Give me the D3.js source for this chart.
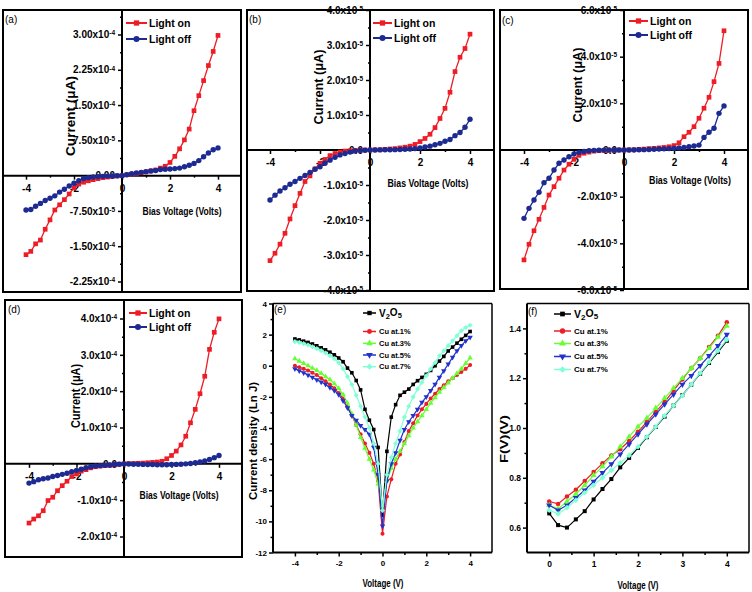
<!DOCTYPE html>
<html><head><meta charset="utf-8">
<script src="https://cdnjs.cloudflare.com/ajax/libs/d3/7.8.5/d3.min.js"></script>
<style>
html,body{margin:0;padding:0;background:#fff;}
svg{display:block;}
text{font-family:'Liberation Sans Narrow','Arial Narrow','Liberation Sans',Arial,sans-serif;font-weight:bold;fill:#000;}
</style></head><body>
<svg id="fig" width="752" height="592"></svg>
<script>
// ---------------- DATA ----------------
const biasV = [-4,-3.8,-3.6,-3.4,-3.2,-3,-2.8,-2.6,-2.4,-2.2,-2,-1.8,-1.6,-1.4,-1.2,-1,-0.8,-0.6,-0.4,-0.2,0,0.2,0.4,0.6,0.8,1,1.2,1.4,1.6,1.8,2,2.2,2.4,2.6,2.8,3,3.2,3.4,3.6,3.8,4];
const ivSeriesNames = ["Light on","Light off"];

// (a) current in units of 1e-4
const aLightOn  = [-1.68,-1.61,-1.45,-1.37,-1.14,-0.94,-0.73,-0.62,-0.51,-0.39,-0.26,-0.18,-0.14,-0.11,-0.085,-0.064,-0.043,-0.03,-0.015,-0.007,0,0.02,0.03,0.045,0.06,0.08,0.10,0.12,0.16,0.20,0.28,0.41,0.57,0.76,0.99,1.38,1.70,2.02,2.34,2.64,2.98];
const aLightOff = [-0.73,-0.72,-0.65,-0.59,-0.53,-0.48,-0.43,-0.35,-0.29,-0.22,-0.16,-0.11,-0.06,-0.043,-0.03,-0.02,-0.015,-0.01,-0.005,-0.002,0,0.02,0.04,0.055,0.07,0.085,0.10,0.11,0.13,0.135,0.14,0.15,0.16,0.19,0.22,0.26,0.32,0.40,0.48,0.55,0.59];
const aTickVals = [-2.25,-1.5,-0.75,0,0.75,1.5,2.25,3.0];
const aTickMant = ["-2.25","-1.50","-7.50","0.00","7.50","1.50","2.25","3.00"];
const aTickExp  = ["-4","-4","-5","","-5","-4","-4","-4"];
const aMinor = [-1.875,-1.125,-0.375,0.375,1.125,1.875,2.625,3.375];

// (b) units of 1e-5
const bLightOn  = [-3.16,-2.95,-2.69,-2.38,-1.97,-1.59,-1.24,-0.90,-0.74,-0.54,-0.38,-0.27,-0.16,-0.10,-0.06,-0.03,-0.02,-0.01,-0.005,0,0,0.005,0.01,0.02,0.03,0.04,0.06,0.08,0.11,0.16,0.24,0.33,0.45,0.64,0.90,1.19,1.65,2.24,2.65,2.90,3.31];
const bLightOff = [-1.43,-1.29,-1.17,-1.08,-0.98,-0.90,-0.81,-0.73,-0.64,-0.55,-0.48,-0.38,-0.29,-0.21,-0.14,-0.10,-0.06,-0.03,-0.01,-0.005,0,0.001,0.003,0.005,0.008,0.01,0.015,0.02,0.03,0.04,0.06,0.085,0.11,0.15,0.19,0.25,0.30,0.41,0.50,0.65,0.88];
const bTickVals = [-4,-3,-2,-1,0,1,2,3,4];
const bTickMant = ["-4.0","-3.0","-2.0","-1.0","0.0","1.0","2.0","3.0","4.0"];
const bTickExp  = ["-5","-5","-5","-5","","-5","-5","-5","-5"];
const bMinor = [-3.5,-2.5,-1.5,-0.5,0.5,1.5,2.5,3.5];

// (c) units of 1e-5
const cLightOn  = [-4.71,-4.04,-3.46,-2.97,-2.46,-1.93,-1.57,-1.21,-0.86,-0.61,-0.40,-0.23,-0.14,-0.09,-0.05,-0.03,-0.02,-0.01,-0.005,0,0,0.005,0.015,0.03,0.04,0.06,0.07,0.09,0.11,0.14,0.19,0.31,0.57,0.76,1.0,1.36,1.79,2.26,2.93,3.71,5.11];
const cLightOff = [-2.93,-2.5,-2.14,-1.81,-1.4,-1.21,-0.86,-0.57,-0.43,-0.29,-0.17,-0.10,-0.06,-0.03,-0.015,-0.01,-0.005,0,0,0,0,0,0,0.01,0.015,0.02,0.03,0.04,0.05,0.06,0.07,0.09,0.11,0.14,0.17,0.21,0.54,0.76,0.93,1.57,1.89];
const cTickVals = [-6,-4,-2,0,2,4,6];
const cTickMant = ["-6.0","-4.0","-2.0","0.0","2.0","4.0","6.0"];
const cTickExp  = ["-5","-5","-5","","-5","-5","-5"];
const cMinor = [-5,-3,-1,1,3,5];

// (d) units of 1e-4
const dLightOn  = [-1.63,-1.52,-1.43,-1.29,-1.01,-0.92,-0.74,-0.60,-0.48,-0.35,-0.28,-0.20,-0.16,-0.11,-0.08,-0.06,-0.05,-0.04,-0.03,-0.01,0,0.005,0.01,0.015,0.02,0.03,0.04,0.05,0.07,0.14,0.23,0.35,0.52,0.76,1.13,1.50,1.93,2.41,3.15,3.62,3.99];
const dLightOff = [-0.53,-0.49,-0.44,-0.41,-0.39,-0.35,-0.32,-0.29,-0.26,-0.22,-0.18,-0.15,-0.11,-0.08,-0.06,-0.05,-0.04,-0.03,-0.02,-0.01,0,-0.005,-0.01,-0.01,-0.015,-0.02,-0.02,-0.025,-0.025,-0.025,-0.02,-0.015,-0.01,0,0.01,0.03,0.05,0.08,0.12,0.17,0.23];
const dTickVals = [-2,-1,0,1,2,3,4];
const dTickMant = ["-2.0","-1.0","0.0","1.0","2.0","3.0","4.0"];
const dTickExp  = ["-4","-4","","-4","-4","-4","-4"];
const dMinor = [-1.5,-0.5,0.5,1.5,2.5,3.5];

const ivXTicks = [-4,-2,0,2,4];
const ivXMinor = [-3,-1,1,3];

// (e) Ln J vs voltage
const eSeriesNames = ["V2O5","Cu at.1%","Cu at.3%","Cu at.5%","Cu at.7%"];
const eV2O5 = [1.72,1.66,1.58,1.50,1.40,1.28,1.15,1.02,0.87,0.70,0.50,0.26,-0.15,-0.45,-0.95,-1.55,-2.8,-3.5,-4.1,-5.25,-9.6,-5.5,-3.3,-2.5,-1.9,-1.7,-1.5,-1.2,-0.96,-0.75,-0.55,-0.3,0.0,0.3,0.6,0.95,1.2,1.45,1.7,1.95,2.2];
const eCu1 = [0.0,-0.1,-0.2,-0.3,-0.45,-0.6,-0.8,-1.0,-1.2,-1.45,-1.75,-2.1,-2.6,-3.2,-3.8,-4.4,-5.0,-5.6,-6.3,-7.4,-10.8,-8.4,-7.3,-6.3,-5.7,-4.9,-4.2,-3.7,-3.2,-2.8,-2.45,-2.1,-1.8,-1.5,-1.25,-1.0,-0.8,-0.6,-0.4,-0.2,0.05];
const eCu3 = [0.45,0.3,0.15,0.0,-0.15,-0.3,-0.5,-0.7,-0.9,-1.15,-1.45,-1.85,-2.4,-3.1,-3.8,-4.6,-5.3,-6.0,-6.7,-7.6,-9.0,-7.4,-6.6,-6.0,-5.5,-5.0,-4.5,-4.0,-3.6,-3.2,-2.8,-2.4,-2.05,-1.7,-1.4,-1.1,-0.8,-0.5,-0.2,0.15,0.5];
const eCu5 = [-0.2,-0.32,-0.45,-0.6,-0.75,-0.9,-1.05,-1.2,-1.4,-1.6,-1.85,-2.25,-2.7,-3.2,-3.5,-3.85,-4.1,-4.4,-5.25,-7.0,-10.3,-7.4,-6.3,-5.6,-4.8,-4.1,-3.6,-3.2,-2.8,-2.35,-2.0,-1.6,-1.2,-0.75,-0.32,0.1,0.54,0.96,1.29,1.6,1.82];
const eCu7 = [1.55,1.5,1.42,1.33,1.22,1.1,0.97,0.82,0.65,0.45,0.2,-0.2,-0.7,-1.2,-1.9,-2.6,-3.3,-4.0,-5.0,-6.3,-9.3,-7.0,-5.9,-5.0,-4.2,-3.3,-2.6,-2.0,-1.5,-1.07,-0.64,-0.2,0.2,0.64,0.96,1.29,1.6,1.93,2.25,2.46,2.6];

// (f) F(V) vs voltage
const fVolt = [0,0.2,0.4,0.6,0.8,1,1.2,1.4,1.6,1.8,2,2.2,2.4,2.6,2.8,3,3.2,3.4,3.6,3.8,4];
const fV2O5 = [0.657,0.61,0.60,0.633,0.666,0.713,0.755,0.795,0.842,0.88,0.92,0.963,1.004,1.046,1.09,1.132,1.174,1.218,1.261,1.305,1.35];
const fCu1 = [0.705,0.695,0.725,0.752,0.787,0.823,0.858,0.89,0.915,0.948,0.985,1.025,1.065,1.105,1.15,1.195,1.24,1.28,1.325,1.37,1.425];
const fCu3 = [0.69,0.675,0.705,0.735,0.77,0.81,0.845,0.885,0.925,0.965,1.005,1.04,1.08,1.12,1.16,1.2,1.24,1.28,1.32,1.365,1.41];
const fCu5 = [0.69,0.67,0.69,0.72,0.75,0.785,0.82,0.855,0.895,0.935,0.975,1.015,1.055,1.095,1.135,1.175,1.21,1.25,1.29,1.33,1.375];
const fCu7 = [0.67,0.655,0.68,0.71,0.74,0.77,0.80,0.83,0.86,0.89,0.925,0.965,1.005,1.05,1.09,1.13,1.175,1.22,1.265,1.31,1.355];

// ---------------- DRAWING ----------------
const svg = d3.select('#fig');
const RED = '#ee1c25', NAVY = '#1d2a92';

function styleAxis(gAx, fs){
  gAx.select('.domain').remove();
  gAx.selectAll('line').attr('stroke','#000').attr('stroke-width',1.5);
  gAx.selectAll('text').style('font-size', fs+'px');
}

function drawIV(p){
  const g = svg.append('g');
  const [fx0,fy0,fx1,fy1] = p.frame;
  const x = d3.scaleLinear().domain([-4,4]).range(p.xr);
  const y = d3.scaleLinear().domain(p.yd).range(p.yr);
  const X0 = x(0), Y0 = y(0);
  g.append('rect').attr('x',fx0).attr('y',fy0).attr('width',fx1-fx0).attr('height',fy1-fy0)
    .attr('fill','none').attr('stroke','#000').attr('stroke-width',2);
  g.append('line').attr('x1',fx0).attr('x2',fx1).attr('y1',Y0).attr('y2',Y0).attr('stroke','#000').attr('stroke-width',2);
  g.append('line').attr('x1',X0).attr('x2',X0).attr('y1',fy0).attr('y2',fy1).attr('stroke','#000').attr('stroke-width',2);

  const gx = g.append('g').attr('transform',`translate(0,${Y0})`)
    .call(d3.axisBottom(x).tickValues(ivXTicks).tickSize(4).tickPadding(5).tickFormat(d=>String(d)));
  styleAxis(gx,10);
  const gxm = g.append('g').attr('transform',`translate(0,${Y0})`)
    .call(d3.axisBottom(x).tickValues(ivXMinor).tickSize(2).tickFormat(''));
  styleAxis(gxm,10);
  const gy = g.append('g').attr('transform',`translate(${X0},0)`)
    .call(d3.axisLeft(y).tickValues(p.yt).tickSize(4).tickPadding(3).tickFormat((d,i)=>p.ym[i]));
  styleAxis(gy,10);
  gy.selectAll('.tick text').each(function(d,i){
    const t = d3.select(this);
    if(p.ye[i]!==''){
      t.text(p.ym[i]+'x10');
      t.append('tspan').attr('dy','-0.45em').style('font-size','6.5px').text(p.ye[i]);
    }
  });
  const gym = g.append('g').attr('transform',`translate(${X0},0)`)
    .call(d3.axisLeft(y).tickValues(p.yminor).tickSize(2).tickFormat(''));
  styleAxis(gym,10);

  const series = [{v:p.on,c:RED,sym:d3.symbolSquare,size:22},{v:p.off,c:NAVY,sym:d3.symbolCircle,size:23}];
  const line = d3.line().x((d,i)=>x(biasV[i])).y(d=>y(d));
  series.forEach(s=>{
    g.append('path').attr('d',line(s.v)).attr('fill','none').attr('stroke',s.c).attr('stroke-width',1.3);
    g.selectAll(null).data(s.v).enter().append('path')
      .attr('transform',(d,i)=>`translate(${x(biasV[i])},${y(d)})`)
      .attr('d',d3.symbol().type(s.sym).size(s.size)).attr('fill',s.c);
  });

  const [lx0,lx1,ly0,ly1] = p.leg;
  [[ly0,series[0]],[ly1,series[1]]].forEach(([ly,s],k)=>{
    g.append('line').attr('x1',lx0).attr('x2',lx1).attr('y1',ly).attr('y2',ly).attr('stroke',s.c).attr('stroke-width',2);
    g.append('path').attr('transform',`translate(${(lx0+lx1)/2},${ly})`).attr('d',d3.symbol().type(s.sym).size(s.size+6)).attr('fill',s.c);
    g.append('text').attr('x',lx1+2).attr('y',ly).attr('dy','0.36em').style('font-size','10.5px').text(ivSeriesNames[k]);
  });

  g.append('text').attr('x',p.xlab[0]).attr('y',p.xlab[1]).attr('dy','0.36em').attr('text-anchor','middle')
    .attr('textLength',p.xlab[2]).attr('lengthAdjust','spacingAndGlyphs').style('font-size','10.5px').text('Bias Voltage (Volts)');
  g.append('text').attr('transform',`translate(${p.ylab[0]},${p.ylab[1]}) rotate(-90)`).attr('dy','0.36em')
    .attr('text-anchor','middle').attr('textLength',p.ylab[2]).attr('lengthAdjust','spacingAndGlyphs')
    .style('font-size','12px').style('font-family','"Liberation Sans",Arial,sans-serif').text('Current (\u03BCA)');
  g.append('text').attr('x',p.tagXY[0]).attr('y',p.tagXY[1]).style('font-size','10px').style('font-weight','normal').text(p.tag);
}

const ivPanels = [
  {tag:'(a)', on:aLightOn, off:aLightOff, yt:aTickVals, ym:aTickMant, ye:aTickExp, yminor:aMinor,
   frame:[3,10,241,292], xr:[26,218], yd:[-2.25,3], yr:[281.5,34.5],
   ylab:[71,116,80], xlab:[182,211,79], leg:[126,147,23,39], tagXY:[5,23]},
  {tag:'(b)', on:bLightOn, off:bLightOff, yt:bTickVals, ym:bTickMant, ye:bTickExp, yminor:bMinor,
   frame:[247,10,494,291], xr:[270,470], yd:[-4,4], yr:[290,10],
   ylab:[319,87,75], xlab:[428,183,81], leg:[373,392,23,38], tagXY:[249,23]},
  {tag:'(c)', on:cLightOn, off:cLightOff, yt:cTickVals, ym:cTickMant, ye:cTickExp, yminor:cMinor,
   frame:[500,10,748,289], xr:[524,724], yd:[-6,6], yr:[290,10],
   ylab:[578,85,75], xlab:[690,180,82], leg:[629,648,21,35], tagXY:[502,24]},
  {tag:'(d)', on:dLightOn, off:dLightOff, yt:dTickVals, ym:dTickMant, ye:dTickExp, yminor:dMinor,
   frame:[5,300,242,557], xr:[29,219], yd:[-2,4], yr:[536.5,318.5],
   ylab:[76,396,64], xlab:[179,495,79], leg:[129,147,313,327], tagXY:[8,313]}
];
ivPanels.forEach(drawIV);

const sixColors = ['#000000','#ee1c25','#66ff33','#2233cc','#7fffd8'];
const sixSymbols = [
  {t:d3.symbolSquare, r:0},{t:d3.symbolCircle, r:0},{t:d3.symbolTriangle, r:0},{t:d3.symbolTriangle, r:180},{t:d3.symbolSquare, r:45}
];

function drawMulti(p){
  const g = svg.append('g');
  const [fx0,fy0,fx1,fy1] = p.frame;
  const x = d3.scaleLinear().domain(p.xd).range([fx0,fx1]);
  const y = d3.scaleLinear().domain(p.yd).range([fy1,fy0]);
  g.append('line').attr('x1',fx0).attr('x2',fx1).attr('y1',fy0).attr('y2',fy0).attr('stroke','#000').attr('stroke-width',1.5);
  g.append('line').attr('x1',fx1).attr('x2',fx1).attr('y1',fy0).attr('y2',fy1).attr('stroke','#000').attr('stroke-width',1.5);

  const gx = g.append('g').attr('transform',`translate(0,${fy1})`)
    .call(d3.axisBottom(x).tickValues(p.xMajor).tickSize(4).tickPadding(4).tickFormat(d=>String(d)));
  styleAxis(gx,p.fs);
  const gxm = g.append('g').attr('transform',`translate(0,${fy1})`)
    .call(d3.axisBottom(x).tickValues(p.xMinor).tickSize(2.5).tickFormat(''));
  styleAxis(gxm,p.fs);
  const gy = g.append('g').attr('transform',`translate(${fx0},0)`)
    .call(d3.axisLeft(y).tickValues(p.yMajor).tickSize(4).tickPadding(2).tickFormat(p.yFmt));
  styleAxis(gy,p.fs);
  const gym = g.append('g').attr('transform',`translate(${fx0},0)`)
    .call(d3.axisLeft(y).tickValues(p.yMinor).tickSize(2.5).tickFormat(''));
  styleAxis(gym,p.fs);
  g.append('line').attr('x1',fx0).attr('x2',fx1).attr('y1',fy1).attr('y2',fy1).attr('stroke','#000').attr('stroke-width',2);
  g.append('line').attr('x1',fx0).attr('x2',fx0).attr('y1',fy0).attr('y2',fy1).attr('stroke','#000').attr('stroke-width',2);

  const line = d3.line().x((d,i)=>x(p.xs[i])).y(d=>y(d));
  p.series.forEach((s,k)=>{
    g.append('path').attr('d',line(s)).attr('fill','none').attr('stroke',sixColors[k]).attr('stroke-width',1.2);
    g.selectAll(null).data(s).enter().append('path')
      .attr('transform',(d,i)=>`translate(${x(p.xs[i])},${y(d)}) rotate(${sixSymbols[k].r})`)
      .attr('d',d3.symbol().type(sixSymbols[k].t).size(p.msize)).attr('fill',sixColors[k]);
  });

  p.legRows.forEach((ly,k)=>{
    g.append('line').attr('x1',p.legX[0]).attr('x2',p.legX[1]).attr('y1',ly).attr('y2',ly).attr('stroke',sixColors[k]).attr('stroke-width',1.5);
    g.append('path').attr('transform',`translate(${(p.legX[0]+p.legX[1])/2},${ly}) rotate(${sixSymbols[k].r})`)
      .attr('d',d3.symbol().type(sixSymbols[k].t).size(p.msize+6)).attr('fill',sixColors[k]);
    const t = g.append('text').attr('x',p.legX[1]+3).attr('y',ly).attr('dy','0.36em');
    if(k===0){
      t.style('font-size',(p.legFs+2.5)+'px');
      t.append('tspan').text('V');
      t.append('tspan').attr('dy','0.3em').style('font-size',(p.legFs)+'px').text('2');
      t.append('tspan').attr('dy','-0.3em').text('O');
      t.append('tspan').attr('dy','0.3em').style('font-size',(p.legFs)+'px').text('5');
    } else {
      t.style('font-size',p.legFs+'px').text(eSeriesNames[k]);
    }
  });

  g.append('text').attr('x',p.xlab[0]).attr('y',p.xlab[1]).attr('dy','0.36em').attr('text-anchor','middle')
    .attr('textLength',41).attr('lengthAdjust','spacingAndGlyphs').style('font-size','10px').text('Voltage (V)');
  g.append('text').attr('transform',`translate(${p.ylab[0]},${p.ylab[1]}) rotate(-90)`).attr('dy','0.36em')
    .attr('text-anchor','middle').attr('textLength',p.ylab[2]).attr('lengthAdjust','spacingAndGlyphs')
    .style('font-size','10px').text(p.ylab[3]);
  g.append('text').attr('x',p.tag[0]).attr('y',p.tag[1]).style('font-size','10px').style('font-weight','normal').text(p.tag[2]);
}

drawMulti({
  frame:[273,303.5,492,552.5], xd:[-5,5], yd:[-12,4], xs:biasV,
  xMajor:[-4,-2,0,2,4], xMinor:[-3,-1,1,3], yMajor:[-12,-10,-8,-6,-4,-2,0,2,4], yMinor:[-11,-9,-7,-5,-3,-1,1,3],
  yFmt:d=>String(d), fs:8,
  series:[eV2O5,eCu1,eCu3,eCu5,eCu7], msize:13,
  legX:[363,376], legRows:[313,331.5,343.3,355,366.7], legFs:7.5,
  xlab:[383,583], ylab:[253,441,118,'Current density (Ln J)'], tag:[274,313,'(e)']
});
drawMulti({
  frame:[527,303.5,749,552.5], xd:[-0.5,4.5], yd:[0.5,1.5], xs:fVolt,
  xMajor:[0,1,2,3,4], xMinor:[0.5,1.5,2.5,3.5], yMajor:[0.6,0.8,1.0,1.2,1.4], yMinor:[0.7,0.9,1.1,1.3],
  yFmt:d3.format('.1f'), fs:8.5,
  series:[fV2O5,fCu1,fCu3,fCu5,fCu7], msize:16,
  legX:[554,571], legRows:[314,331,343.5,356.5,369.5], legFs:8,
  xlab:[638,585], ylab:[504,439,48,'F(V)(V)'], tag:[528,315,'(f)']
});
</script>
</body></html>
